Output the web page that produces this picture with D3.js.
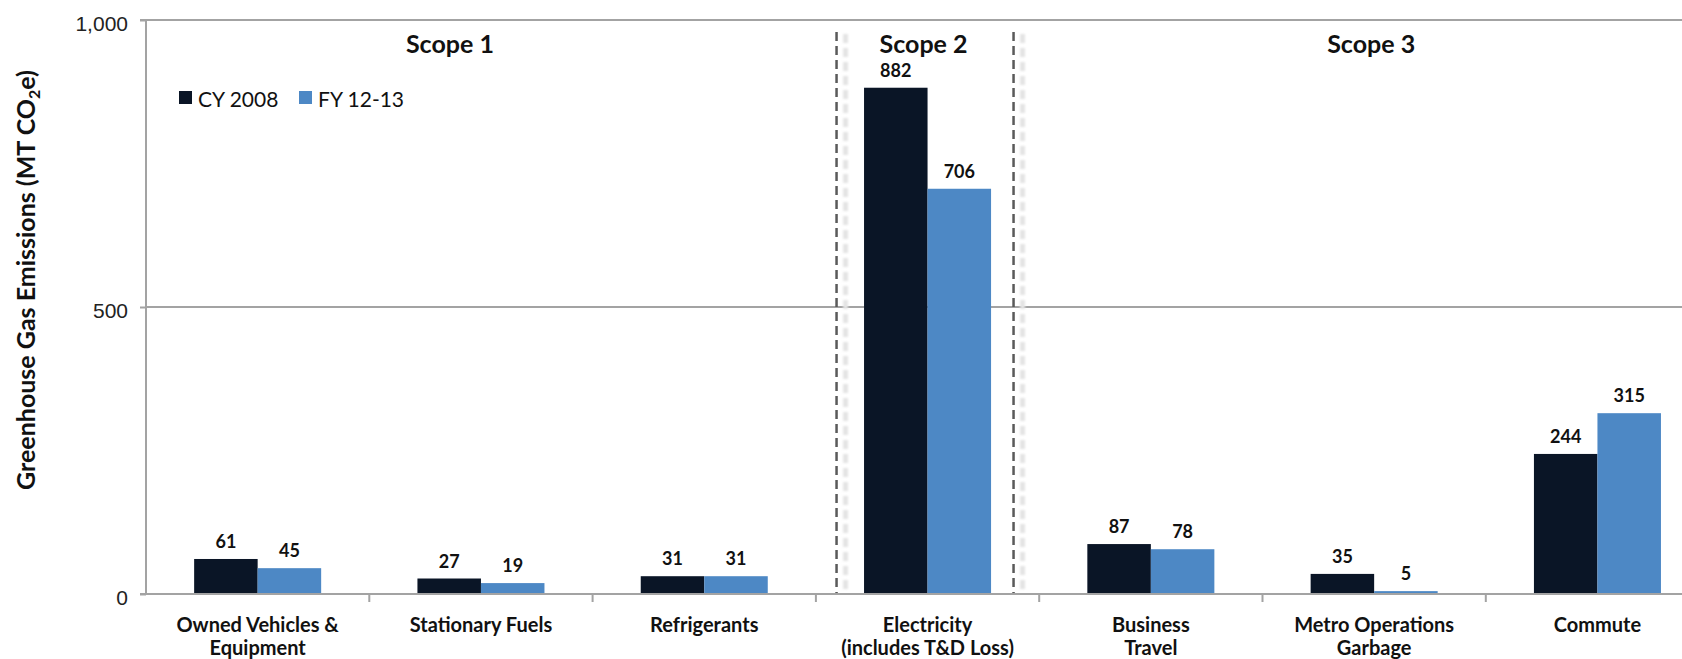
<!DOCTYPE html>
<html>
<head>
<meta charset="utf-8">
<script src="https://cdn.jsdelivr.net/npm/d3@7"></script>
<style>
  html, body { margin: 0; padding: 0; background: #fff; overflow: hidden; }
  svg { display: block; }
</style>
</head>
<body>
<svg id="chart" width="1682" height="659"></svg>
<script>
// Emission sources, grouped by scope
const categories = [
  "Owned Vehicles & Equipment",
  "Stationary Fuels",
  "Refrigerants",
  "Electricity (includes T&D Loss)",
  "Business Travel",
  "Metro Operations Garbage",
  "Commute"
];
const categoryLines = [
  ["Owned Vehicles &", "Equipment"],
  ["Stationary Fuels"],
  ["Refrigerants"],
  ["Electricity", "(includes T&D Loss)"],
  ["Business", "Travel"],
  ["Metro Operations", "Garbage"],
  ["Commute"]
];
const seriesNames = ["CY 2008", "FY 12-13"];
const cy2008 = [61, 27, 31, 882, 87, 35, 244];
const fy1213 = [45, 19, 31, 706, 78, 5, 315];
const yTicks = [0, 500, 1000];
const scopeNames = ["Scope 1", "Scope 2", "Scope 3"];
const scopeAnchors = ["Stationary Fuels", "Electricity (includes T&D Loss)", "Metro Operations Garbage"];

const colors = { "CY 2008": "#0a1526", "FY 12-13": "#4d88c5" };
const catFont = "Lato, 'Open Sans', sans-serif";

const svg = d3.select("#chart");
const left = 146, band = 223.3, baseY = 594, topY = 20;

const x0 = d3.scaleBand().domain(categories)
  .range([left, left + band * categories.length]).paddingInner(0).paddingOuter(0);
const x1 = d3.scaleBand().domain(seriesNames)
  .range([0, x0.bandwidth()]).paddingInner(0).paddingOuter(0.758);
const y = d3.scaleLinear().domain([0, 1000]).range([baseY, topY]);

const rows = categories.map((c, i) => ({ cat: c, values: [
  { key: "CY 2008", value: cy2008[i] },
  { key: "FY 12-13", value: fy1213[i] }
]}));

// Gridlines
svg.append("g").selectAll("line").data(yTicks.filter(t => t > 0)).join("line")
  .attr("x1", left).attr("x2", 1682)
  .attr("y1", d => y(d)).attr("y2", d => y(d))
  .attr("stroke", "#a3a3a3").attr("stroke-width", 1.8);

// Scope separators (dashed, with soft shadow)
const sepCenter = x0("Electricity (includes T&D Loss)") + x0.bandwidth() / 2;
const seps = [sepCenter - 91, sepCenter + 86];
svg.append("g").selectAll("line").data(seps).join("line")
  .attr("x1", d => d + 9).attr("x2", d => d + 9)
  .attr("y1", 34).attr("y2", baseY)
  .attr("stroke", "#e4e4e4").attr("stroke-width", 5)
  .attr("stroke-dasharray", "9 5").style("filter", "blur(1.2px)");
svg.append("g").selectAll("line").data(seps).join("line")
  .attr("x1", d => d).attr("x2", d => d)
  .attr("y1", 32).attr("y2", baseY)
  .attr("stroke", "#5a5a5a").attr("stroke-width", 2.5)
  .attr("stroke-dasharray", "9 5");

// Bars
const groups = svg.append("g").selectAll("g").data(rows).join("g")
  .attr("transform", d => `translate(${x0(d.cat)},0)`);
groups.selectAll("rect").data(d => d.values).join("rect")
  .attr("x", d => x1(d.key))
  .attr("width", x1.bandwidth())
  .attr("y", d => y(d.value))
  .attr("height", d => y(0) - y(d.value))
  .attr("fill", d => colors[d.key]);

// Value labels
groups.selectAll("text").data(d => d.values).join("text")
  .attr("x", d => x1(d.key) + x1.bandwidth() / 2)
  .attr("y", d => y(d.value) - 11)
  .attr("text-anchor", "middle")
  .attr("font-family", catFont).attr("font-weight", 700)
  .attr("font-size", 18).attr("fill", "#111")
  .text(d => d.value);

// Y axis
const yAxis = d3.axisLeft(y).tickValues(yTicks).tickSize(6).tickPadding(12)
  .tickFormat(d3.format(","));
const gy = svg.append("g").attr("transform", `translate(${left},0)`).call(yAxis);
gy.select(".domain").attr("stroke", "#a3a3a3").attr("stroke-width", 2).attr("d", `M-6,${topY}H0V${baseY}H-6`);
gy.selectAll(".tick line").attr("stroke", "#a3a3a3").attr("stroke-width", 2);
gy.selectAll(".tick text").attr("font-family", "'Liberation Sans', Arial, sans-serif")
  .attr("font-size", 21).attr("fill", "#222").attr("dy", "0.52em");

// X axis
const xAxis = d3.axisBottom(x0).tickSize(0).tickFormat("");
const gx = svg.append("g").attr("transform", `translate(0,${baseY})`).call(xAxis);
gx.select(".domain").attr("stroke", "#a3a3a3").attr("stroke-width", 2).attr("d", `M${left},0H1682`);
gx.append("g").selectAll("line").data(categories.slice(1)).join("line")
  .attr("x1", d => x0(d)).attr("x2", d => x0(d))
  .attr("y1", 0).attr("y2", 8)
  .attr("stroke", "#a3a3a3").attr("stroke-width", 2);

// Category labels
const catLabels = svg.append("g").selectAll("text").data(categories).join("text")
  .attr("x", d => x0(d) + x0.bandwidth() / 2)
  .attr("y", 632)
  .attr("text-anchor", "middle")
  .attr("font-family", catFont).attr("font-weight", 700)
  .attr("font-size", 20).attr("fill", "#111");
catLabels.each(function(d, i) {
  const t = d3.select(this);
  categoryLines[i].forEach((line, j) => {
    t.append("tspan").attr("x", x0(d) + x0.bandwidth() / 2)
      .attr("y", 632 + j * 23).text(line);
  });
});

// Scope headings
const scopeOffsets = [-31, -4, -3];
svg.append("g").selectAll("text").data(scopeNames).join("text")
  .attr("x", (d, i) => x0(scopeAnchors[i]) + x0.bandwidth() / 2 + scopeOffsets[i])
  .attr("y", 53)
  .attr("text-anchor", "middle")
  .attr("font-family", catFont).attr("font-weight", 700)
  .attr("font-size", 25).attr("fill", "#111")
  .text(d => d);

// Legend
const legend = svg.append("g").selectAll("g").data(seriesNames).join("g")
  .attr("transform", (d, i) => `translate(${179 + i * 120},91)`);
legend.append("rect").attr("width", 13).attr("height", 13).attr("fill", d => colors[d]);
legend.append("text").attr("x", 19).attr("y", 16)
  .attr("font-family", catFont).attr("font-size", 21).attr("fill", "#111")
  .text(d => d);

// Y axis title
const yTitle = svg.append("text")
  .attr("transform", "translate(35,280) rotate(-90)")
  .attr("text-anchor", "middle")
  .attr("font-family", catFont).attr("font-weight", 700)
  .attr("font-size", 25).attr("fill", "#111");
yTitle.append("tspan").text("Greenhouse Gas Emissions (MT CO");
yTitle.append("tspan").attr("font-size", 16).attr("dy", 5).text("2");
yTitle.append("tspan").attr("dy", -5).text("e)");
</script>
</body>
</html>
